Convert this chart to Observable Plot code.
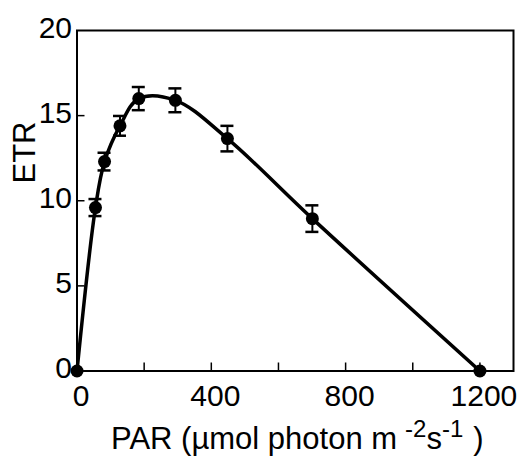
<!DOCTYPE html>
<html><head><meta charset="utf-8">
<script src="https://cdn.jsdelivr.net/npm/d3@7"></script>
<script src="https://cdn.jsdelivr.net/npm/@observablehq/plot@0.6"></script>
<style>body{margin:0;background:#fff} svg{display:block}</style>
</head><body><div id="chart"></div>
<script>
const par = [0, 55, 82, 128, 184, 293, 448, 701, 1200];
const etr = [0, 9.6, 12.3, 14.4, 16.0, 15.9, 13.65, 8.95, 0];
const err = [0, 0.5, 0.52, 0.58, 0.68, 0.7, 0.75, 0.78, 0];
const xTickLabels = [0, 400, 800, 1200];
const xTicks = [200, 400, 600, 800, 1000, 1200];
const yTickLabels = [0, 5, 10, 15, 20];
const yTicks = [5, 10, 15];
const yTitle = "ETR";
const xTitle = ["PAR (µmol photon m", "-2", "s", "-1", ")"];

const data = par.map((p, i) => ({par: p, etr: etr[i], err: err[i]}));
const bars = data.filter(d => d.err > 0);
const font = "'Liberation Sans', Arial, Helvetica, sans-serif";

const chart = Plot.plot({
  width: 526, height: 456,
  marginLeft: 76.5, marginRight: 13, marginTop: 30, marginBottom: 85.5,
  style: {fontFamily: font, background: "white", color: "black"},
  x: {domain: [0, 1300]},
  y: {domain: [0, 20]},
  marks: [
    Plot.frame({stroke: "black", strokeWidth: 2}),
    Plot.ruleX(xTicks, {x: d => d, y1: 0, y2: 0, insetTop: -8, stroke: "black", strokeWidth: 1.5}),
    Plot.ruleY(yTicks, {y: d => d, x1: 0, x2: 0, insetRight: -8, stroke: "black", strokeWidth: 1.5}),
    Plot.axisX({ticks: xTickLabels, tickSize: 0, tickPadding: 14, fontSize: 30, dx: 4, tickFormat: d => String(d), label: null}),
    Plot.axisY({ticks: yTickLabels, tickSize: 0, tickPadding: 5, fontSize: 30, dy: -2.5, tickFormat: d => String(d), label: null}),
    Plot.ruleX(bars, {x: "par", y1: d => d.etr - d.err, y2: d => d.etr + d.err, stroke: "black", strokeWidth: 2}),
    Plot.ruleY(bars, {y: d => d.etr + d.err, x1: "par", x2: "par", insetLeft: -6.5, insetRight: -6.5, stroke: "black", strokeWidth: 2.5}),
    Plot.ruleY(bars, {y: d => d.etr - d.err, x1: "par", x2: "par", insetLeft: -6.5, insetRight: -6.5, stroke: "black", strokeWidth: 2.5}),
    Plot.line(data, {x: "par", y: "etr", curve: "catmull-rom", stroke: "black", strokeWidth: 3.5}),
    Plot.dot(data, {x: "par", y: "etr", r: 6.5, fill: "black", stroke: "none"})
  ]
});

const svg = d3.select(chart);
svg.append("text")
  .attr("transform", "translate(34.5,152.5) rotate(-90)")
  .attr("text-anchor", "middle")
  .attr("font-size", 31)
  .attr("font-family", font)
  .attr("fill", "black")
  .text(yTitle);

const t = svg.append("text")
  .attr("x", 111).attr("y", 449)
  .attr("text-anchor", "start")
  .attr("font-size", 31)
  .attr("font-family", font)
  .attr("fill", "black");
t.append("tspan").text(xTitle[0]);
t.append("tspan").attr("font-size", 24).attr("dx", 8).attr("dy", -12).text(xTitle[1]);
t.append("tspan").attr("dy", 12).text(xTitle[2]);
t.append("tspan").attr("font-size", 24).attr("dy", -12).text(xTitle[3]);
t.append("tspan").attr("dx", 10).attr("dy", 12).text(xTitle[4]);

document.getElementById("chart").appendChild(chart);
</script>
</body></html>
